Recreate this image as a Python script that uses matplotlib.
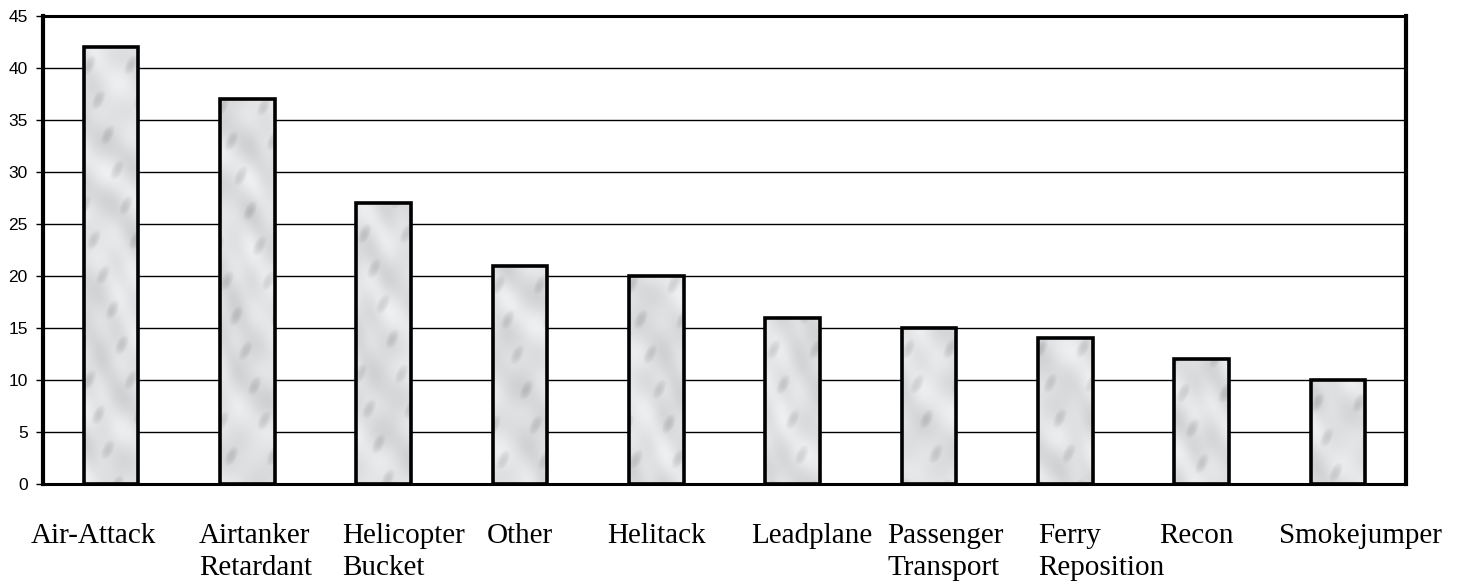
import numpy as np
import matplotlib.pyplot as plt
from matplotlib.patches import Rectangle

# data
categories = ['Air-Attack', 'Airtanker\nRetardant', 'Helicopter\nBucket', 'Other', 'Helitack',
              'Leadplane', 'Passenger\nTransport', 'Ferry\nReposition', 'Recon', 'Smokejumper']
values = [42, 37, 27, 21, 20, 16, 15, 14, 12, 10]
yticks = [0, 5, 10, 15, 20, 25, 30, 35, 40, 45]
# left edge of each category label, in figure pixels
label_px = [31, 199, 342, 487, 607, 751, 887, 1038, 1159, 1279]

W, H = 1461, 584


def marble(rows, cols, seed):
    """light grey mottled texture, made from sines (no random numbers)"""
    v, u = np.mgrid[0:rows, 0:cols].astype(float)
    d = u * 0.8 - v * 0.6 + seed * 37.0   # streaks along '/' direction
    t = (np.sin(d * 0.09 + 1.8 * np.sin(v * 0.023 + seed)) * 0.5
         + np.sin(d * 0.19 + 1.1 * np.sin(u * 0.07 + v * 0.015 + seed * 2)) * 0.3
         + np.sin(u * 0.13 + v * 0.09 + seed * 3.1) * 0.2)
    g = 0.875 + 0.06 * t
    spots = np.sin(v * 0.09 + seed) * np.sin(u * 0.15 + v * 0.05 + seed)
    g -= 0.10 * np.clip(spots - 0.6, 0, 1) * 2.5
    img = np.dstack([g, g + 0.004, g + 0.012])
    return np.clip(img, 0, 1)


fig = plt.figure(figsize=(W / 100, H / 100), dpi=100)
ax = fig.add_axes([43 / W, 1 - 484 / H, (1406 - 43) / W, (484 - 16) / H])

x = np.arange(len(categories))
bars = ax.bar(x, values, width=0.4, facecolor='none', edgecolor='black',
              linewidth=2.6, zorder=3)
for i, b in enumerate(bars):
    x0, w, h = b.get_x(), b.get_width(), b.get_height()
    rows = int(h / 45 * 468)
    tex = marble(rows, 55, i)
    im = ax.imshow(tex, extent=(x0, x0 + w, 0, h), origin='upper',
                   aspect='auto', interpolation='bilinear', zorder=2)
    im.set_clip_path(Rectangle((x0, 0), w, h, transform=ax.transData))

ax.set_xlim(-0.5, len(categories) - 0.5)
ax.set_ylim(0, 45)
ax.set_yticks(yticks)
ax.set_yticklabels([str(t) for t in yticks], fontsize=12.5, family='Liberation Sans')
ax.tick_params(axis='y', length=5, width=1, pad=6)
ax.set_xticks([])
ax.grid(axis='y', color='black', linewidth=1, zorder=1)
ax.set_axisbelow(True)
for s in ['left', 'right']:
    ax.spines[s].set_linewidth(3)
for s in ['top', 'bottom']:
    ax.spines[s].set_linewidth(2.2)

for lab, px in zip(categories, label_px):
    fig.text(px / W, 1 - 523 / H, lab, ha='left', va='top', fontsize=21,
             family='Liberation Serif', linespacing=1.28)

fig.savefig('out.png', dpi=100)
